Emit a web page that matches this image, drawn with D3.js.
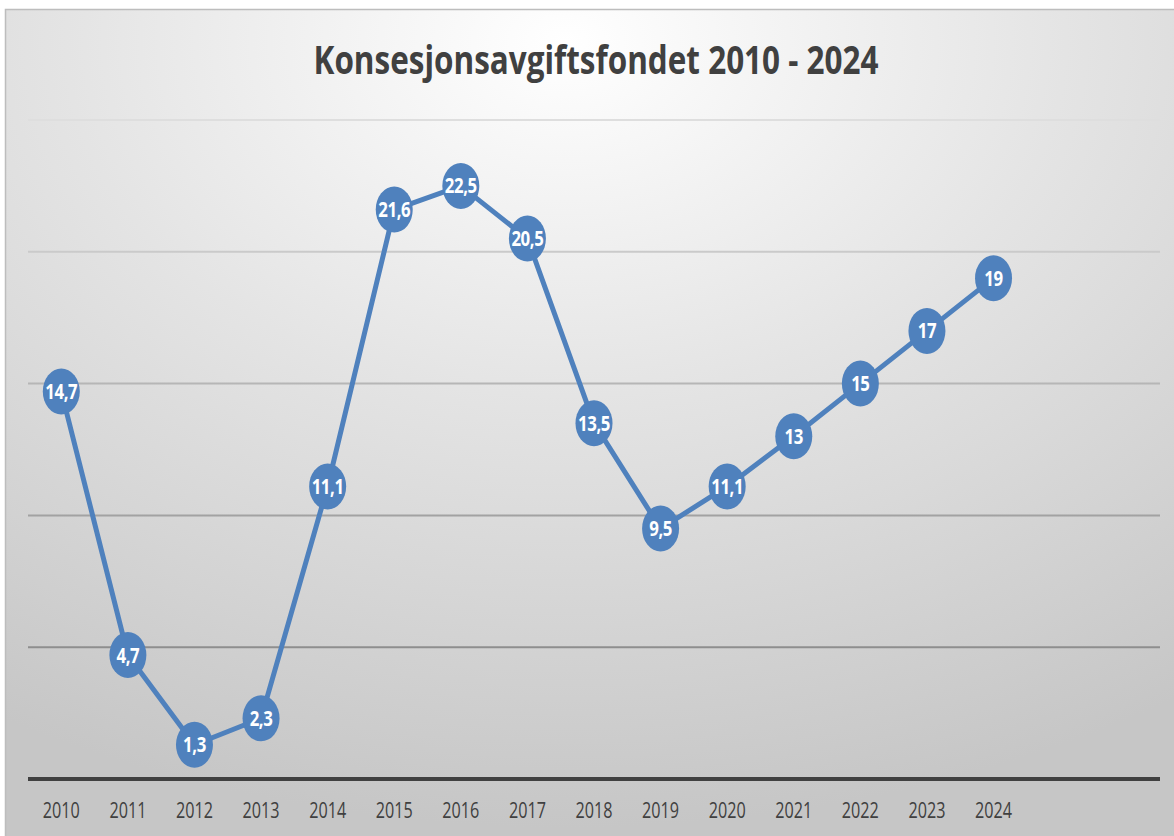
<!DOCTYPE html>
<html>
<head>
<meta charset="utf-8">
<script src="https://cdn.jsdelivr.net/npm/d3@7"></script>
<style>
  html, body { margin: 0; padding: 0; background: #fff; }
  #vis { width: 1174px; height: 836px; }
</style>
</head>
<body>
<div id="vis"></div>
<script>
// chart data
const years = ["2010", "2011", "2012", "2013", "2014", "2015", "2016", "2017",
  "2018", "2019", "2020", "2021", "2022", "2023", "2024"];
const values = [14.7, 4.7, 1.3, 2.3, 11.1, 21.6, 22.5, 20.5, 13.5, 9.5, 11.1, 13, 15, 17, 19];
const gridTicks = [5, 10, 15, 20, 25];
const title = "Konsesjonsavgiftsfondet 2010 - 2024";

const W = 1174, H = 836;
// plot area (the category axis has room for 17 slots, last two empty)
const plot = { left: 28, right: 1160, top: 120, bottom: 779 };
const slots = 17;

const svg = d3.select("#vis")
  .append("svg")
    .attr("width", W)
    .attr("height", H);

// radial background gradient
const defs = svg.append("defs");
const grad = defs.append("radialGradient")
    .attr("id", "bg")
    .attr("cx", "48%").attr("cy", "4%")
    .attr("r", "95%");
grad.append("stop").attr("offset", "0%").attr("stop-color", "#ffffff");
grad.append("stop").attr("offset", "45%").attr("stop-color", "#e4e4e4");
grad.append("stop").attr("offset", "100%").attr("stop-color", "#c6c6c6");

svg.append("rect")
    .attr("x", 5).attr("y", 9)
    .attr("width", W - 5).attr("height", H - 9)
    .attr("fill", "url(#bg)");
// chart border top/left
svg.append("path")
    .attr("d", `M5.5,${H} V9.5 H${W}`)
    .attr("fill", "none")
    .attr("stroke", "#bdbdbd")
    .attr("stroke-width", 1.5);

// scales
const band = (plot.right - plot.left) / slots;
const x = d3.scaleBand()
    .domain(years)
    .range([plot.left, plot.left + band * years.length]);
const y = d3.scaleLinear()
    .domain([0, 25])
    .range([plot.bottom, plot.top]);

// gridlines, getting darker towards the bottom
const gridColor = d3.scaleLinear()
    .domain([25, 5])
    .range(["#dedede", "#8e8e8e"]);
svg.append("g")
  .selectAll("line")
  .data(gridTicks)
  .join("line")
    .attr("x1", plot.left)
    .attr("x2", plot.right)
    .attr("y1", d => y(d))
    .attr("y2", d => y(d))
    .attr("stroke", d => gridColor(d))
    .attr("stroke-width", 2);

// x axis
const xAxis = svg.append("g")
    .attr("transform", `translate(0, ${y(0)})`)
    .call(d3.axisBottom(x).tickSize(0).tickPadding(24));
xAxis.select(".domain").remove();
xAxis.append("line")
    .attr("x1", plot.left).attr("x2", plot.right)
    .attr("stroke", "#404040")
    .attr("stroke-width", 4);
xAxis.selectAll(".tick text")
    .attr("font-family", "'Open Sans', sans-serif")
    .attr("font-size", 21)
    .attr("fill", "#404040")
    .attr("textLength", 37)
    .attr("lengthAdjust", "spacingAndGlyphs");

// title
svg.append("text")
    .attr("x", 596)
    .attr("y", 74)
    .attr("text-anchor", "middle")
    .attr("font-family", "'Open Sans', sans-serif")
    .attr("font-weight", "bold")
    .attr("font-size", 39)
    .attr("fill", "#404040")
    .attr("textLength", 565)
    .attr("lengthAdjust", "spacingAndGlyphs")
    .text(title);

// line
const cx = (d, i) => x(years[i]) + x.bandwidth() / 2;
const line = d3.line()
    .x(cx)
    .y(d => y(d));
svg.append("path")
    .datum(values)
    .attr("fill", "none")
    .attr("stroke", "#4f81bd")
    .attr("stroke-width", 5)
    .attr("stroke-linejoin", "round")
    .attr("d", line);

// markers with labels
const fmt = v => String(v).replace(".", ",");
const pts = svg.append("g")
  .selectAll("g")
  .data(values)
  .join("g")
    .attr("transform", (d, i) => `translate(${cx(d, i)}, ${y(d)})`);
pts.append("ellipse")
    .attr("rx", 18.5)
    .attr("ry", 23)
    .attr("fill", "#4f81bd");
pts.append("text")
    .attr("transform", "scale(0.8,1)")
    .attr("y", 7.5)
    .attr("text-anchor", "middle")
    .attr("font-family", "'Open Sans', sans-serif")
    .attr("font-weight", "bold")
    .attr("font-size", 21)
    .attr("letter-spacing", -0.5)
    .attr("fill", "#ffffff")
    .text(d => fmt(d));
</script>
</body>
</html>
